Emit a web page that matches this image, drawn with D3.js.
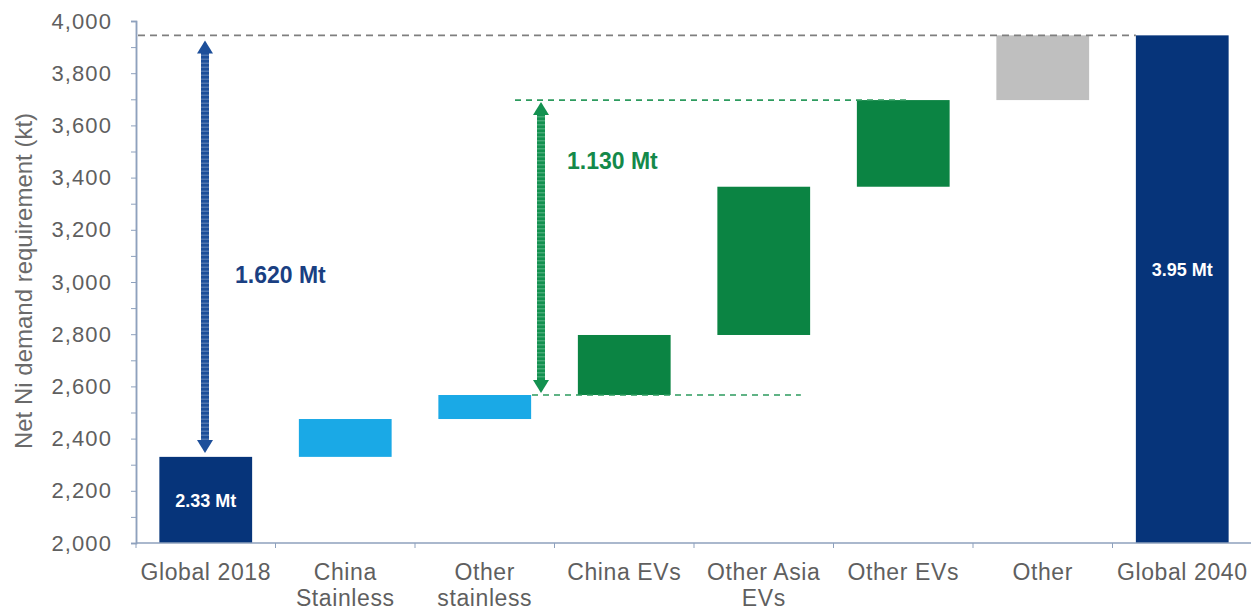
<!DOCTYPE html>
<html><head><meta charset="utf-8">
<script src="https://cdn.jsdelivr.net/npm/d3@7"></script>
<style>body{margin:0;background:#fff}svg{display:block}text{font-family:"Liberation Sans",Arial,sans-serif}</style>
</head><body><svg id="c" width="1251" height="610"></svg>
<script>
const categories = [["Global 2018"],["China","Stainless"],["Other","stainless"],["China EVs"],["Other Asia","EVs"],["Other EVs"],["Other"],["Global 2040"]];
const starts = [2000, 2330, 2475, 2567, 2797, 3365, 3697, 2000];
const ends   = [2330, 2475, 2567, 2797, 3365, 3697, 3945, 3945];
const kinds  = ["total","stain","stain","ev","ev","ev","other","total"];
const barLabels = ["2.33 Mt","","","","","","","3.95 Mt"];
const yTicks = [2000,2200,2400,2600,2800,3000,3200,3400,3600,3800,4000];
const minorTicks = [2100,2300,2500,2700,2900,3100,3300,3500,3700,3900];
const colors = {total:"#06347a", stain:"#1aa9e6", ev:"#0b8443", other:"#bfbfbf"};

const svg = d3.select("#c");
const L=136, R=1252, T=21, B=543;
const y = d3.scaleLinear().domain([2000,4000]).range([B,T]);
const x = d3.scaleBand().domain(d3.range(categories.length)).range([L,R]).paddingInner(0.335).paddingOuter(0.1675);
const axisCol = "#8ea1bd", txtCol = "#5f5f5f";

// bars
svg.selectAll("rect.bar").data(starts).join("rect")
  .attr("x",(d,i)=>x(i)).attr("width",x.bandwidth())
  .attr("y",(d,i)=>y(ends[i])).attr("height",(d,i)=>y(d)-y(ends[i]))
  .attr("fill",(d,i)=>colors[kinds[i]]);

// bar labels
svg.selectAll("text.bl").data(barLabels).join("text")
  .attr("x",(d,i)=>x(i)+x.bandwidth()/2)
  .attr("y",(d,i)=> i===0 ? (y(starts[i])+y(ends[i]))/2+7 : y(3050)+7)
  .attr("text-anchor","middle").attr("fill","#fff").attr("font-weight","bold")
  .attr("font-size",18).text(d=>d);

// dashed reference lines
svg.append("line").attr("x1",L+2).attr("x2",x(7)).attr("y1",y(3945)).attr("y2",y(3945))
  .attr("stroke","#7f7f7f").attr("stroke-width",1.6).attr("stroke-dasharray","7,5");
svg.append("line").attr("x1",515).attr("x2",x(5)+x.bandwidth()*0.55).attr("y1",y(3697)).attr("y2",y(3697))
  .attr("stroke","#2d9b5e").attr("stroke-width",1.6).attr("stroke-dasharray","6,5");
svg.append("line").attr("x1",532).attr("x2",x(4)+x.bandwidth()*0.9).attr("y1",y(2567)).attr("y2",y(2567))
  .attr("stroke","#2d9b5e").attr("stroke-width",1.6).attr("stroke-dasharray","6,5");

// double arrows
function dArrow(cx, v1, v2, col){
  const y1=y(v2), y2=y(v1);
  const g=svg.append("g");
  g.append("line").attr("x1",cx).attr("x2",cx).attr("y1",y1+10).attr("y2",y2-10)
    .attr("stroke",col).attr("stroke-width",8);
  g.append("line").attr("x1",cx).attr("x2",cx).attr("y1",y1+10).attr("y2",y2-10)
    .attr("stroke","#ffffff").attr("stroke-opacity",0.22).attr("stroke-width",8).attr("stroke-dasharray","1.5,2.5");
  g.append("path").attr("d",`M${cx-8},${y1+13}L${cx},${y1}L${cx+8},${y1+13}Z`).attr("fill",col);
  g.append("path").attr("d",`M${cx-8},${y2-13}L${cx},${y2}L${cx+8},${y2-13}Z`).attr("fill",col);
}
dArrow(205, 2345, 3925, "#1d4f9a");
dArrow(541, 2575, 3690, "#139150");

svg.append("text").attr("x",235).attr("y",283).attr("font-size",23).attr("font-weight","bold")
  .attr("fill","#1a3f82").text("1.620 Mt");
svg.append("text").attr("x",567).attr("y",169).attr("font-size",23).attr("font-weight","bold")
  .attr("fill","#14894a").text("1.130 Mt");

// y axis
const ya = svg.append("g").attr("transform",`translate(${L},0)`)
  .call(d3.axisLeft(y).tickValues(yTicks).tickFormat(d3.format(",")).tickSize(5).tickPadding(19));
const ym = svg.append("g").attr("transform",`translate(${L},0)`)
  .call(d3.axisLeft(y).tickValues(minorTicks).tickFormat("").tickSize(5));
[ya,ym].forEach(g=>{g.select(".domain").attr("stroke",axisCol).attr("stroke-width",1.5);
  g.selectAll(".tick line").attr("stroke",axisCol);});
ya.selectAll(".tick text").attr("font-size",22).attr("letter-spacing","1.1px").attr("fill",txtCol)
  .attr("font-family","Liberation Sans, Arial, sans-serif");

// x axis
const xEdges = d3.range(categories.length+1).map(i=>L+i*x.step());
svg.append("line").attr("x1",L).attr("x2",R).attr("y1",B).attr("y2",B).attr("stroke",axisCol).attr("stroke-width",1.5);
svg.selectAll("line.xt").data(xEdges).join("line").attr("x1",d=>d).attr("x2",d=>d)
  .attr("y1",B).attr("y2",B+5).attr("stroke",axisCol);
const xl = svg.selectAll("text.xl").data(categories).join("text")
  .attr("text-anchor","middle").attr("font-size",23).attr("letter-spacing","0.6px").attr("fill",txtCol)
  .attr("transform",(d,i)=>`translate(${x(i)+x.bandwidth()/2},580)`);
xl.selectAll("tspan").data(d=>d).join("tspan").attr("x",0).attr("dy",(d,j)=>j?26:0).text(d=>d);

// y title
svg.append("text").attr("transform",`translate(32,281) rotate(-90)`).attr("text-anchor","middle")
  .attr("font-size",24).attr("fill","#6a6a6a").text("Net Ni demand requirement (kt)");
</script></body></html>
